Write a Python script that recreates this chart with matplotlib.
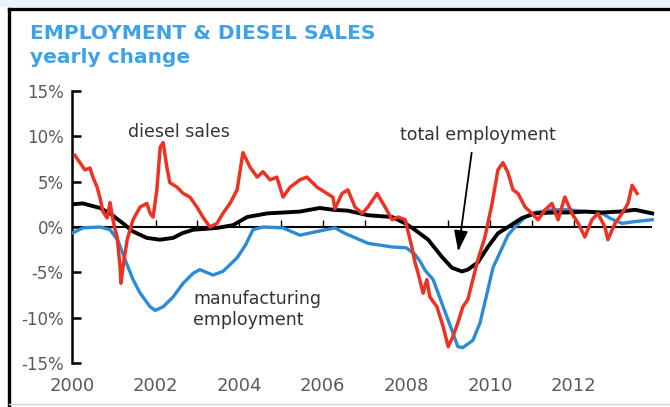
import matplotlib
matplotlib.use("Agg")
import matplotlib.pyplot as plt
from matplotlib.lines import Line2D
from matplotlib.patches import Rectangle

plt.rcParams['font.family'] = ['DejaVu Sans']

# total employment, yearly change (%)
emp_years = [2000.0, 2000.26, 2000.67, 2000.91, 2001.22, 2001.46, 2001.79, 2002.1, 2002.42,
             2002.63, 2002.9, 2003.2, 2003.47, 2003.85, 2004.19, 2004.67, 2005.45, 2005.93,
             2006.24, 2006.6, 2007.08, 2007.66, 2007.97, 2008.2, 2008.52, 2008.85, 2009.09,
             2009.33, 2009.47, 2009.71, 2009.95, 2010.19, 2010.43, 2010.77, 2011.08, 2011.5,
             2011.87, 2012.3, 2012.68, 2013.1, 2013.47, 2013.88]
emp_pct = [2.5, 2.6, 2.1, 1.5, 0.4, -0.5, -1.2, -1.4, -1.2,
           -0.7, -0.3, -0.2, -0.1, 0.2, 1.1, 1.5, 1.7, 2.1,
           1.9, 1.8, 1.3, 1.1, 0.4, -0.3, -1.4, -3.3, -4.5,
           -4.9, -4.7, -3.9, -2.2, -0.7, 0.0, 1.0, 1.5, 1.6,
           1.6, 1.7, 1.6, 1.7, 1.9, 1.5]

# manufacturing employment, yearly change (%)
mfg_years = [2000.0, 2000.26, 2000.67, 2000.91, 2001.1, 2001.27, 2001.46, 2001.63, 2001.87,
             2001.99, 2002.18, 2002.42, 2002.66, 2002.9, 2003.06, 2003.37, 2003.61, 2003.95,
             2004.15, 2004.33, 2004.57, 2005.05, 2005.45, 2005.86, 2006.29, 2006.53, 2007.08,
             2007.66, 2008.0, 2008.2, 2008.33, 2008.45, 2008.64, 2008.88, 2009.09, 2009.23,
             2009.35, 2009.59, 2009.76, 2009.93, 2010.07, 2010.29, 2010.43, 2010.6, 2010.84,
             2011.08, 2011.5, 2011.87, 2012.3, 2012.68, 2012.9, 2013.16, 2013.47, 2013.88]
mfg_pct = [-0.7, -0.1, 0.0, -0.3, -1.5, -3.6, -5.8, -7.3, -8.8,
           -9.2, -8.8, -7.7, -6.2, -5.1, -4.7, -5.3, -4.9, -3.4,
           -2.0, -0.3, 0.0, -0.1, -0.9, -0.5, -0.1, -0.7, -1.8,
           -2.2, -2.3, -3.0, -3.8, -4.8, -5.8, -8.8, -11.4, -13.2,
           -13.3, -12.5, -10.6, -7.3, -4.5, -2.3, -0.9, 0.0, 1.1,
           1.6, 1.9, 1.9, 1.7, 1.5, 0.9, 0.4, 0.6, 0.8]

# diesel sales, yearly change (%)
diesel_years = [2000.07, 2000.19, 2000.31, 2000.43, 2000.5, 2000.6, 2000.67, 2000.74, 2000.84,
                2000.91, 2000.98, 2001.03, 2001.08, 2001.15, 2001.17, 2001.22, 2001.32, 2001.46,
                2001.63, 2001.79, 2001.87, 2001.94, 2002.03, 2002.11, 2002.18, 2002.27, 2002.34,
                2002.51, 2002.66, 2002.82, 2002.99, 2003.13, 2003.3, 2003.47, 2003.61, 2003.78,
                2003.95, 2004.09, 2004.26, 2004.43, 2004.57, 2004.74, 2004.9, 2005.05, 2005.22,
                2005.45, 2005.62, 2005.86, 2006.1, 2006.24, 2006.29, 2006.46, 2006.6, 2006.77,
                2006.94, 2007.08, 2007.3, 2007.49, 2007.66, 2007.8, 2007.97, 2008.13, 2008.2,
                2008.28, 2008.4, 2008.49, 2008.56, 2008.73, 2008.88, 2009.0, 2009.11, 2009.23,
                2009.35, 2009.47, 2009.59, 2009.71, 2009.88, 2010.05, 2010.19, 2010.31, 2010.43,
                2010.55, 2010.67, 2010.84, 2011.0, 2011.15, 2011.32, 2011.48, 2011.63, 2011.79,
                2011.96, 2012.11, 2012.27, 2012.44, 2012.58, 2012.75, 2012.82, 2012.99, 2013.16,
                2013.3, 2013.4, 2013.52]
diesel_pct = [7.9, 7.1, 6.3, 6.5, 5.5, 4.4, 3.2, 1.7, 1.0,
              2.7, 0.8, -0.3, -1.1, -4.4, -6.2, -4.4, -1.4, 0.8,
              2.2, 2.6, 1.5, 1.1, 4.1, 8.8, 9.3, 6.6, 4.9,
              4.4, 3.7, 3.3, 2.2, 1.1, 0.0, 0.4, 1.5, 2.6,
              4.1, 8.2, 6.6, 5.5, 6.1, 5.2, 5.5, 3.3, 4.4,
              5.2, 5.5, 4.4, 3.7, 3.3, 2.0, 3.7, 4.1, 2.2,
              1.5, 2.2, 3.7, 2.2, 0.8, 1.1, 0.8, -2.2, -3.8,
              -5.1, -7.3, -5.8, -7.7, -8.8, -11.0, -13.2, -12.1, -10.6,
              -8.8, -8.0, -5.8, -3.6, -1.1, 2.6, 6.3, 7.1, 6.0,
              4.1, 3.7, 2.2, 1.5, 0.8, 1.9, 2.6, 0.8, 3.3,
              1.5, 0.4, -1.1, 0.8, 1.5, 0.0, -1.4, 0.4, 1.5,
              2.6, 4.6, 3.7]

y_ticks = [15, 10, 5, 0, -5, -10, -15]
y_labels = ['15%', '10%', '5%', '0%', '-5%', '-10%', '-15%']
x_ticks = [2000, 2002, 2004, 2006, 2008, 2010, 2012]
minor_years = list(range(2001, 2014))

W, H = 670, 407
fig = plt.figure(figsize=(W / 100, H / 100), dpi=100)
fig.patch.set_facecolor('white')

# frame: light strip on top, black rules top and left, grey rule at bottom
fig.patches.append(Rectangle((0, 1 - 7 / H), 1, 7 / H, transform=fig.transFigure,
                             facecolor='#e9f4fb', edgecolor='none'))
fig.lines.append(Line2D([8.5 / W, 1], [1 - 9 / H, 1 - 9 / H], transform=fig.transFigure,
                        color='black', lw=2.4))
fig.lines.append(Line2D([8.5 / W, 8.5 / W], [0, 1 - 9 / H], transform=fig.transFigure,
                        color='black', lw=2.4))
fig.lines.append(Line2D([8.5 / W, 1], [3 / H, 3 / H], transform=fig.transFigure,
                        color='#d0d0d0', lw=1.0))

blue_title = '#3da2e6'
fig.text(30 / W, 1 - 39 / H, 'EMPLOYMENT & DIESEL SALES', color=blue_title,
         fontsize=14.5, fontweight='bold', va='baseline', ha='left')
fig.text(30 / W, 1 - 63 / H, 'yearly change', color=blue_title,
         fontsize=14.5, fontweight='bold', va='baseline', ha='left')

left, right = 72, 665
top, bottom = 91, 363
ax = fig.add_axes([left / W, 1 - bottom / H, (right - left) / W, (bottom - top) / H])
ax.set_facecolor('none')
ax.set_xlim(2000, 2000 + (right - left) / 41.8)
ax.set_ylim(-15, 15)

for s in ['top', 'right', 'bottom']:
    ax.spines[s].set_visible(False)
ax.spines['left'].set_linewidth(1.8)

ax.set_yticks(y_ticks)
ax.set_yticklabels(y_labels)
ax.tick_params(axis='y', direction='in', length=6.5, width=1.8, pad=6,
               labelsize=12, labelcolor='#5a5a5a')
ax.set_xticks(x_ticks)
ax.set_xticklabels([str(t) for t in x_ticks])
ax.tick_params(axis='x', length=0, pad=10, labelsize=13, labelcolor='#5a5a5a')

# zero line with small yearly ticks
ax.hlines(0, 2000, emp_years[-1], color='black', lw=1.5, zorder=2)
ax.vlines(minor_years, 0, 0.75, color='black', lw=1.0, zorder=2)

ax.plot(mfg_years, mfg_pct, color='#2b8bd6', lw=2.4, zorder=3, solid_joinstyle='round')
ax.plot(emp_years, emp_pct, color='black', lw=2.8, zorder=4, solid_joinstyle='round')
ax.plot(diesel_years, diesel_pct, color='#ec3323', lw=2.5, zorder=5, solid_joinstyle='round')

ann = '#333333'
ax.text(2001.34, 10.5, 'diesel sales', color=ann, fontsize=12.5, va='center', ha='left')
ax.text(2007.85, 10.1, 'total employment', color=ann, fontsize=12.5, va='center', ha='left')
ax.text(2002.9, -9.1, 'manufacturing\nemployment', color=ann, fontsize=12.5,
        va='center', ha='left', linespacing=1.15)
ax.annotate('', xy=(2009.23, -3.0), xytext=(2009.57, 8.5),
            arrowprops=dict(arrowstyle='-|>,head_length=0.9,head_width=0.3', color='black',
                            lw=1.3, mutation_scale=14), zorder=6)

fig.savefig('out.png', dpi=100)
